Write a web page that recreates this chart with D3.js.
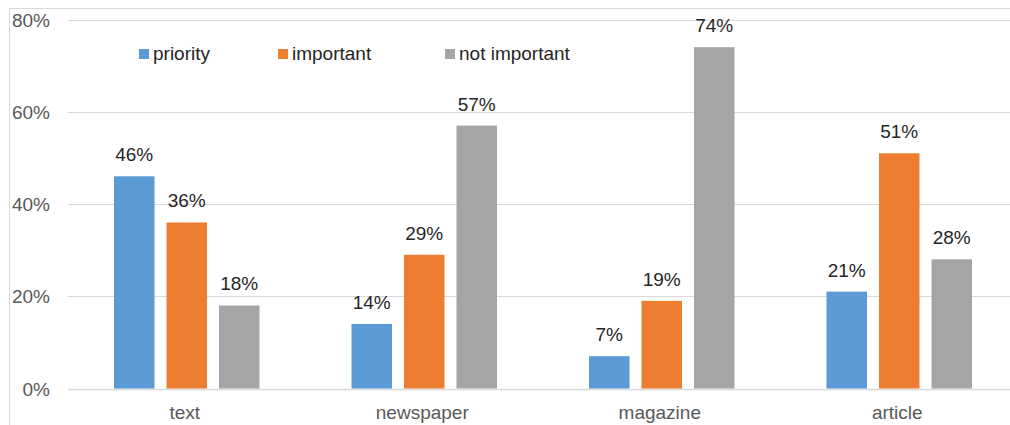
<!DOCTYPE html>
<html>
<head>
<meta charset="utf-8">
<script src="https://cdn.jsdelivr.net/npm/d3@7"></script>
<style>
  html, body { margin: 0; padding: 0; background: #fff; }
  svg { display: block; font-family: "Liberation Sans", Arial, sans-serif; }
</style>
</head>
<body>
<svg id="chart" width="1010" height="425"></svg>
<script>
// Survey shares per category
const categories = ["text", "newspaper", "magazine", "article"];
const seriesNames = ["priority", "important", "not important"];
const priority = [46, 14, 7, 21];
const important = [36, 29, 19, 51];
const notImportant = [18, 57, 74, 28];
const yTicks = [0, 20, 40, 60, 80];
const seriesColors = ["#5B9BD5", "#ED7D31", "#A5A5A5"];

const seriesValues = [priority, important, notImportant];

const svg = d3.select("#chart");
const W = 1010, H = 425;

// Outer chart frame (only top and left edges fall inside the view)
svg.append("rect")
  .attr("x", 9.5).attr("y", 8.5)
  .attr("width", W + 20).attr("height", H + 20)
  .attr("fill", "none").attr("stroke", "#d9d9d9").attr("stroke-width", 1);

const plot = { left: 68, right: 1018, top: 19.5, bottom: 388.5 };

const y = d3.scaleLinear().domain([0, 80]).range([plot.bottom, plot.top]);
const x0 = d3.scaleBand().domain(categories).range([plot.left, plot.right]).paddingInner(0).paddingOuter(0);
// bars: 40.5px wide, 12px apart, centred in each 237.5px band
const groupInner = 145.5;
const x1 = d3.scaleBand().domain(seriesNames)
  .range([(x0.bandwidth() - groupInner) / 2, (x0.bandwidth() + groupInner) / 2])
  .paddingInner(12 / 52.5).paddingOuter(0);

// Gridlines
svg.append("g")
  .selectAll("line")
  .data(yTicks)
  .join("line")
  .attr("x1", plot.left).attr("x2", W)
  .attr("y1", d => Math.round(y(d)) + 0.5).attr("y2", d => Math.round(y(d)) + 0.5)
  .attr("stroke", "#d9d9d9").attr("stroke-width", d => d === 0 ? 1.5 : 1);

// Y axis labels
const yAxis = d3.axisLeft(y).tickValues(yTicks).tickFormat(d => d + "%").tickSize(0).tickPadding(0);
const yg = svg.append("g").attr("transform", "translate(50,0)").call(yAxis);
yg.select(".domain").remove();
yg.selectAll("text")
  .attr("fill", "#595959").style("font-size", "19px")
  .attr("font-family", "Liberation Sans, Arial, sans-serif")
  .attr("dy", "0.35em");

// Bars
const groups = svg.append("g")
  .selectAll("g")
  .data(categories)
  .join("g")
  .attr("transform", d => `translate(${x0(d)},0)`);

groups.selectAll("rect")
  .data((c, i) => seriesNames.map((s, k) => ({ s, k, v: seriesValues[k][i] })))
  .join("rect")
  .attr("x", d => x1(d.s))
  .attr("width", x1.bandwidth())
  .attr("y", d => y(d.v))
  .attr("height", d => y(0) - y(d.v))
  .attr("fill", d => seriesColors[d.k]);

// Value labels
groups.selectAll("text.val")
  .data((c, i) => seriesNames.map((s, k) => ({ s, k, v: seriesValues[k][i] })))
  .join("text")
  .attr("class", "val")
  .attr("x", d => x1(d.s) + x1.bandwidth() / 2)
  .attr("y", d => y(d.v) - 15)
  .attr("text-anchor", "middle")
  .attr("fill", "#262626")
  .style("font-size", "19px")
  .text(d => d.v + "%");

// Category axis labels
const xAxis = d3.axisBottom(x0).tickSize(0).tickPadding(0);
const xg = svg.append("g").attr("transform", `translate(-2,${plot.bottom})`).call(xAxis);
xg.select(".domain").remove();
xg.selectAll("text")
  .attr("fill", "#595959").style("font-size", "19px")
  .attr("font-family", "Liberation Sans, Arial, sans-serif")
  .attr("dy", null).attr("y", 30);

// Legend
const legendX = [139, 278, 445];
const legend = svg.append("g")
  .selectAll("g")
  .data(seriesNames)
  .join("g")
  .attr("transform", (d, i) => `translate(${legendX[i]},48)`);
legend.append("rect")
  .attr("width", 10).attr("height", 10).attr("y", 1)
  .attr("fill", (d, i) => seriesColors[i]);
legend.append("text")
  .attr("x", 14).attr("y", 12)
  .attr("fill", "#262626")
  .style("font-size", "19px")
  .text(d => d);
</script>
</body>
</html>
